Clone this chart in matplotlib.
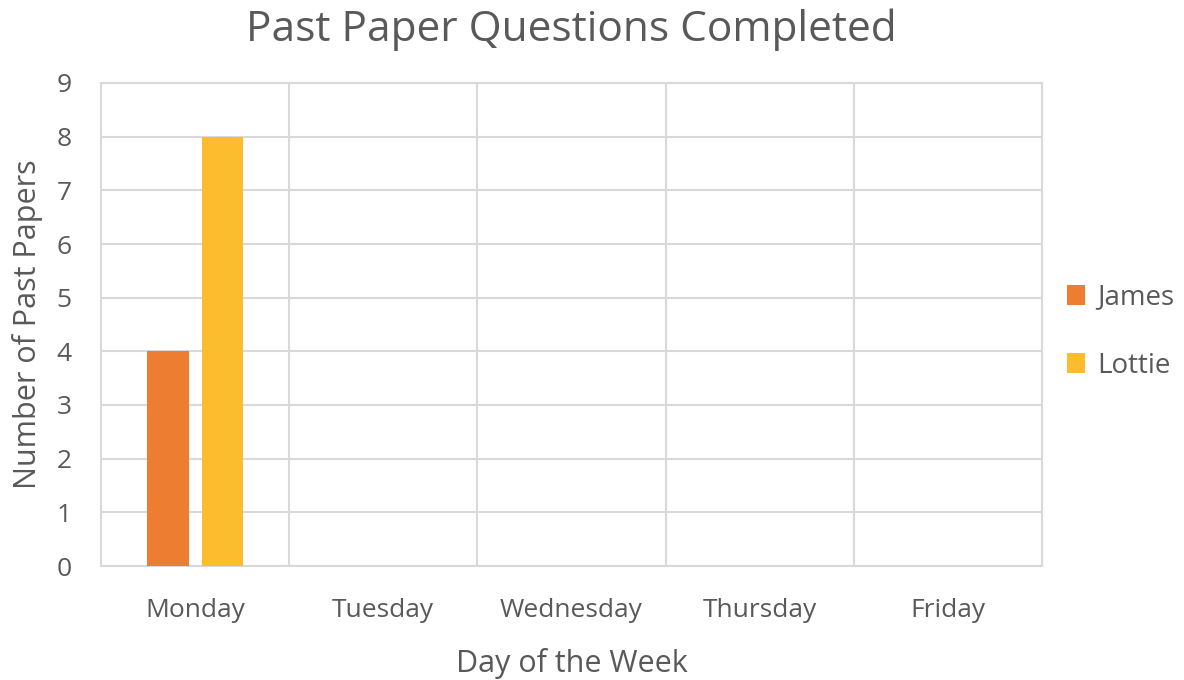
import numpy as np
import matplotlib.pyplot as plt

plt.rcParams['font.family'] = ['Open Sans', 'DejaVu Sans']

# data
days = ['Monday', 'Tuesday', 'Wednesday', 'Thursday', 'Friday']
james = [4, 0, 0, 0, 0]
lottie = [8, 0, 0, 0, 0]

text_col = '#595959'
grid_col = '#D9D9D9'

fig = plt.figure(figsize=(11.84, 6.8), dpi=100)
ax = fig.add_axes([101 / 1184, 1 - 566 / 680, (1042 - 101) / 1184, (566 - 83) / 680])

x = np.arange(len(days))
w = 0.22
ax.bar(x - 0.145, james, w, color='#ED7D31', label='James', zorder=3)
ax.bar(x + 0.145, lottie, w, color='#FBBC2D', label='Lottie', zorder=3)

ax.set_xlim(-0.5, len(days) - 0.5)
ax.set_ylim(0, 9)
ax.set_yticks(range(10))
ax.set_xticks(x)
ax.set_xticklabels(days)
ax.tick_params(axis='both', length=0, labelsize=19, labelcolor=text_col)
ax.tick_params(axis='x', pad=23)
ax.tick_params(axis='y', pad=21)

# gridlines
ax.yaxis.grid(True, color=grid_col, linewidth=1.5, zorder=0)
for b in np.arange(0.5, len(days) - 0.5, 1):
    ax.axvline(b, color=grid_col, linewidth=1.5, zorder=0)
for s in ax.spines.values():
    s.set_color(grid_col)
    s.set_linewidth(1.5)

ax.set_xlabel('Day of the Week', fontsize=22, color=text_col, labelpad=18)
ax.set_ylabel('Number of Past Papers', fontsize=22, color=text_col, labelpad=10)
ax.set_title('Past Paper Questions Completed', fontsize=30.5, color=text_col, pad=30)

ax.legend(loc='center left', bbox_to_anchor=(1.0, 0.485), frameon=False,
          fontsize=20, handlelength=0.65, handleheight=0.7, handletextpad=0.45,
          labelspacing=1.45, labelcolor=text_col)

fig.savefig('out.png', dpi=100)
